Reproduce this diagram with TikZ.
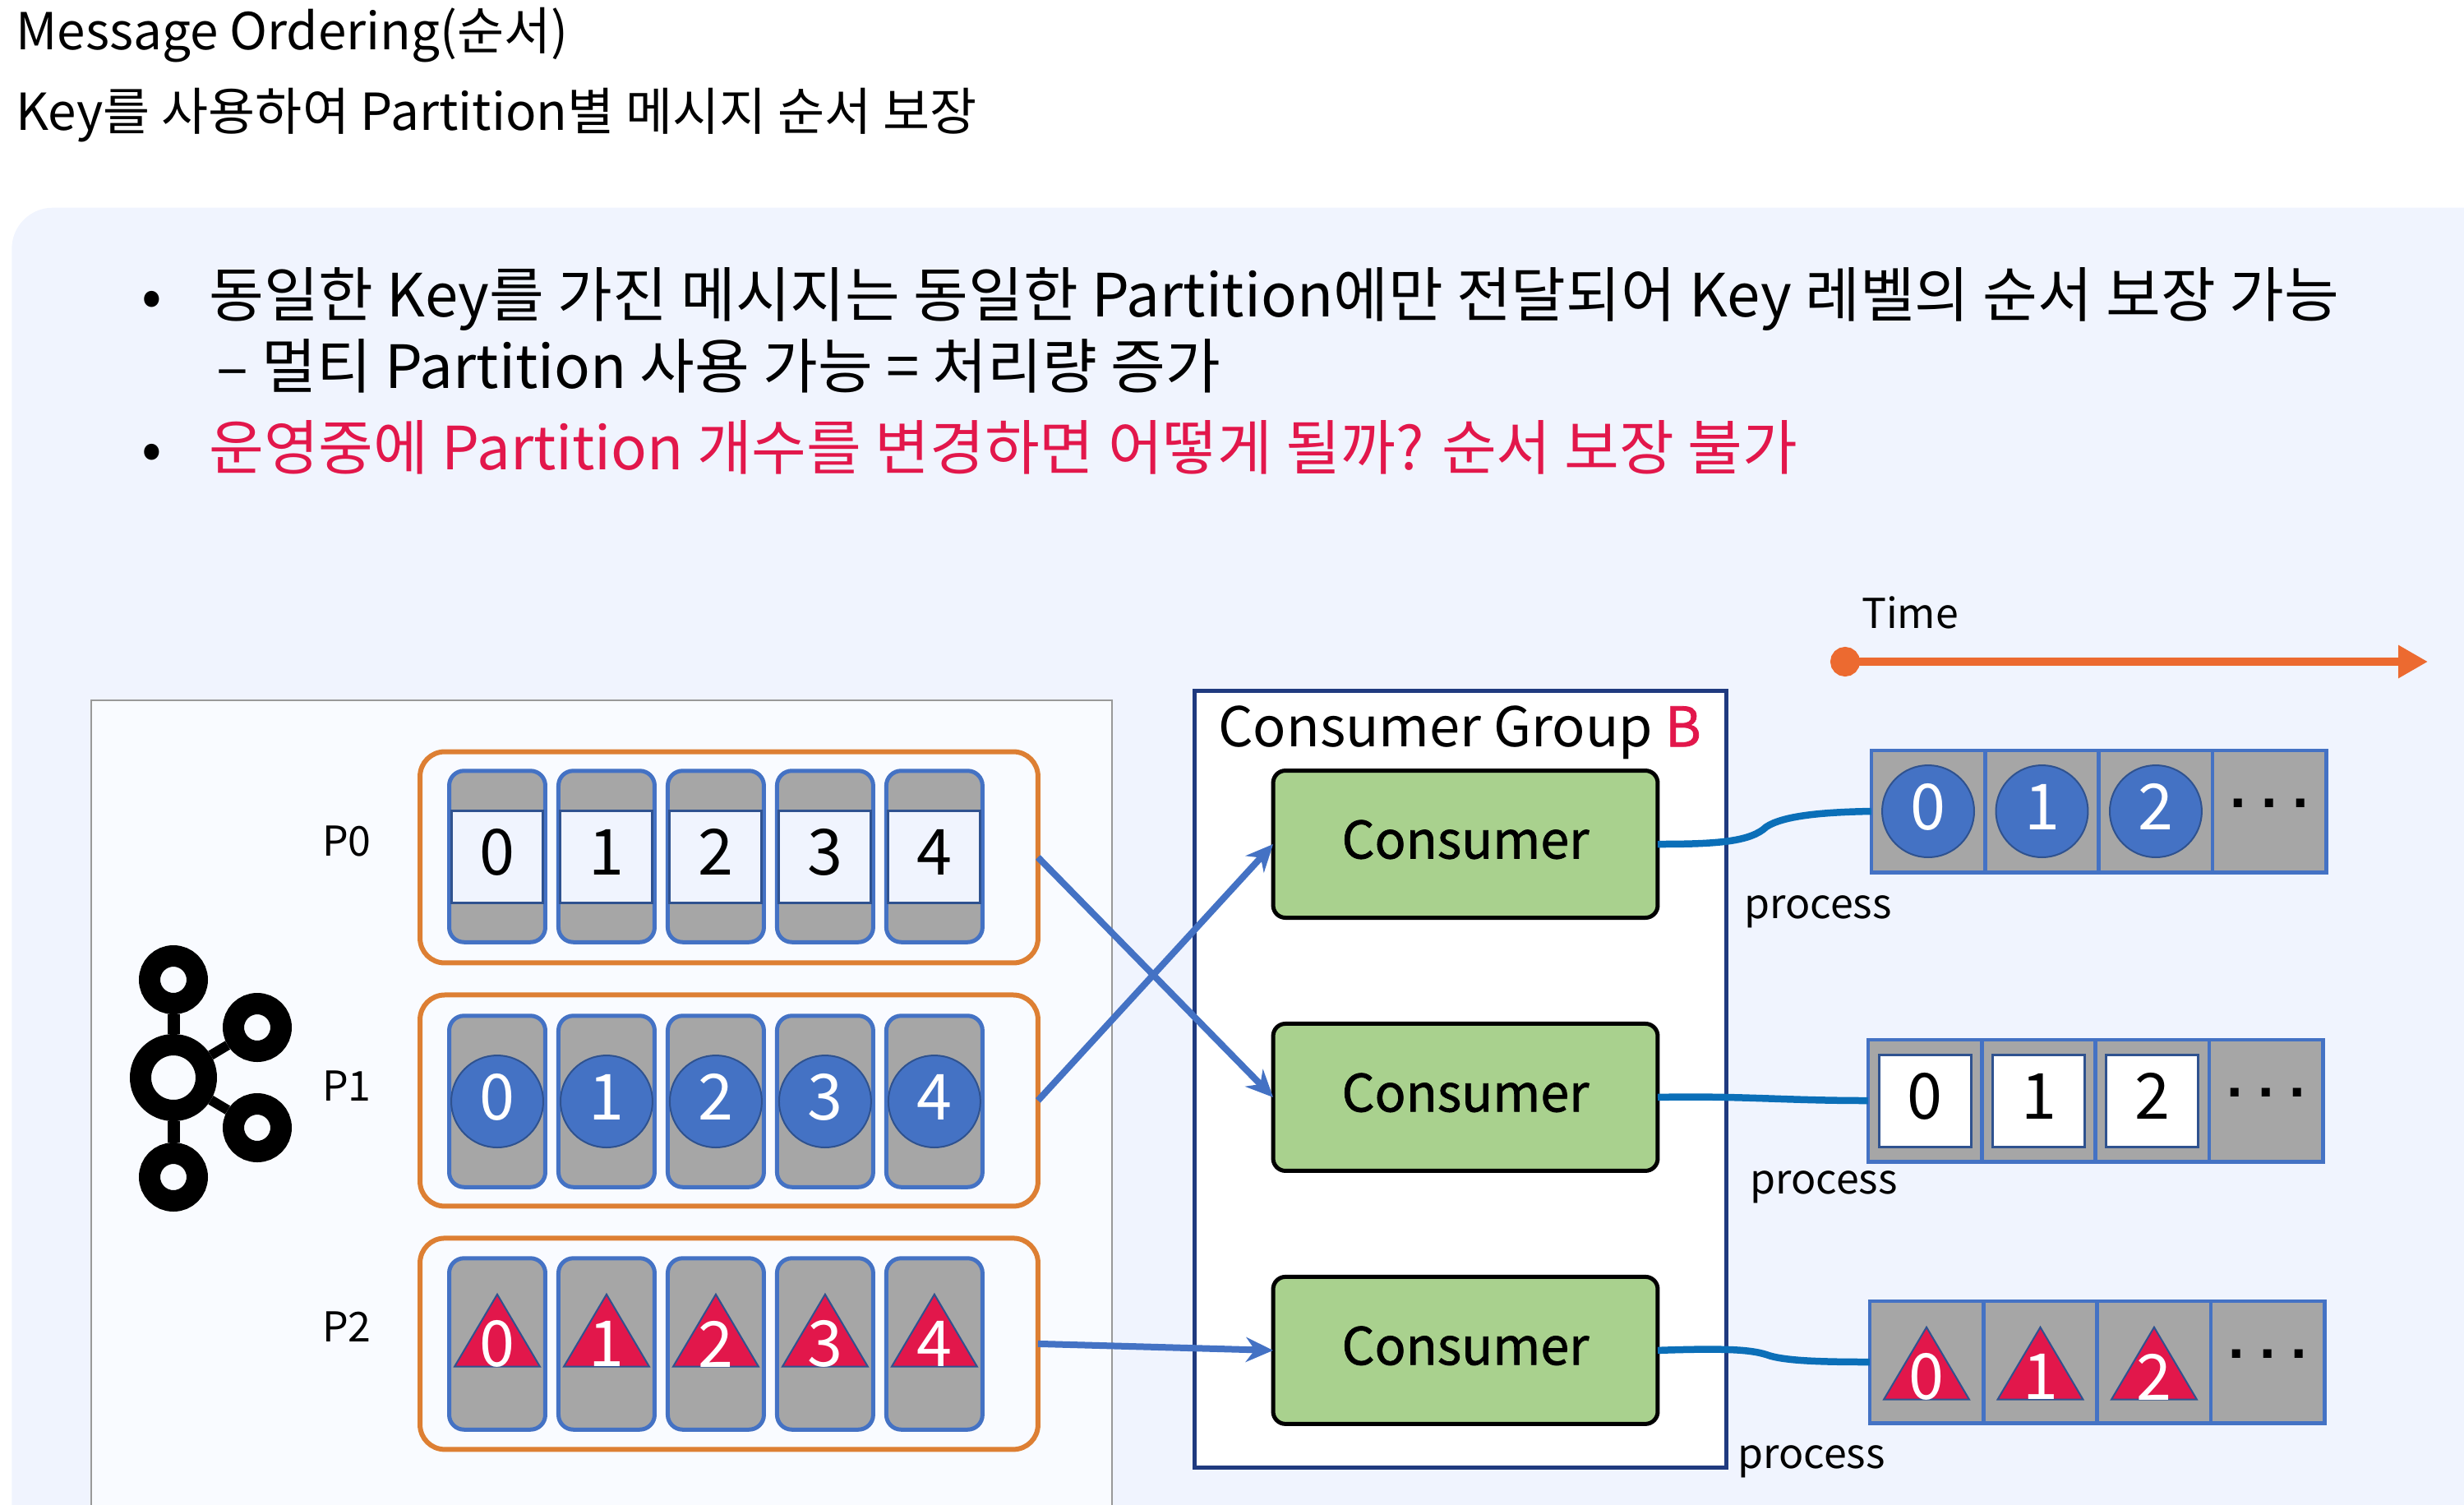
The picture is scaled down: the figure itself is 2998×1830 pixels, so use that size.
\documentclass[tikz,border=0pt]{standalone}
\usepackage{fontspec}
\setmainfont{Noto Sans CJK KR}
\newfontfamily\medfont[FakeBold=1.2]{Noto Sans CJK KR}
\newfontfamily\dotfont{Liberation Sans}
\usetikzlibrary{shapes.geometric, arrows.meta, positioning}

\definecolor{panelblue}{HTML}{F0F4FE}
\definecolor{srvfill}{HTML}{F9FBFF}
\definecolor{slotgray}{HTML}{A6A6A6}
\definecolor{msgblue}{HTML}{4472C4}
\definecolor{msgnavy}{HTML}{2F528F}
\definecolor{msgred}{HTML}{E2174B}
\definecolor{orangeline}{HTML}{DD7F33}
\definecolor{timeorange}{HTML}{EC6A30}
\definecolor{consgreen}{HTML}{A9D18E}
\definecolor{procblue}{HTML}{0B6FB8}
\definecolor{groupnavy}{HTML}{1F3A7F}

\begin{document}
\begin{tikzpicture}[
    x=0.02cm, y=-0.02cm,
    headtext/.style={anchor=base west, inner sep=0pt, font=\fontsize{35.3}{40}\selectfont},
    bodytext/.style={anchor=base west, inner sep=0pt, font=\fontsize{41.3}{48}\selectfont},
    smalltext/.style={inner sep=0pt, font=\fontsize{28.5}{32}\selectfont},
    partbox/.style={draw=orangeline, line width=0.12cm, rounded corners=0.6cm, outer sep=0pt, minimum width=15.04cm, minimum height=5.14cm},
    slotbox/.style={draw=msgblue, line width=0.1cm, fill=slotgray, rounded corners=0.36cm, outer sep=0pt, minimum width=2.34cm, minimum height=4.17cm},
    cellbox/.style={draw=msgblue, line width=0.09cm, fill=slotgray, outer sep=0pt, minimum width=2.77cm, minimum height=2.97cm},
    msgsquare/.style={draw=msgnavy, line width=0.06cm, fill=white, inner sep=0pt, text depth=0.22cm, minimum size=2.24cm, font=\fontsize{44}{50}\selectfont},
    msgcircle/.style={circle, draw=msgnavy, line width=0.04cm, fill=msgblue, text=white, inner sep=0pt, text depth=0.22cm, minimum size=2.24cm, font=\fontsize{44}{50}\selectfont},
    msgtri/.style={isosceles triangle, isosceles triangle stretches, shape border rotate=90, draw=msgnavy, line width=0.04cm, fill=msgred, inner sep=0pt, minimum width=2.08cm, minimum height=1.76cm, label={[text=white, inner sep=0pt, yshift=-0.04cm, font=\fontsize{44}{50}\selectfont]center:#1}},
    dotmark/.style={inner sep=0pt, yshift=0.2cm, font=\dotfont\fontsize{40}{44}\selectfont\bfseries},
    consumer/.style={draw=black, line width=0.1cm, fill=consgreen, rounded corners=0.3cm, outer sep=0pt, text depth=0.24cm, minimum width=9.36cm, minimum height=3.58cm, font=\medfont\fontsize{35.7}{40}\selectfont},
    ring/.style={circle, draw=black, line width=0.52cm, fill=srvfill, inner sep=0pt, minimum size=1.16cm},
    arrow/.style={-{Stealth[length=0.66cm, width=0.6cm]}, draw=msgblue, line width=0.16cm},
    procline/.style={draw=procblue, line width=0.17cm}
]
\useasboundingbox (0,0) rectangle (2998,1830);
\clip (0,0) rectangle (2998,1830);

% Title and text
\node (title) [headtext] at (19,60) {Message Ordering(순서)};
\node (subtitle) [headtext] at (19,158) {Key를 사용하여 Partition별 메시지 순서 보장};

% Backgrounds
\node (panel) [fill=panelblue, rounded corners=1cm, minimum width=61.72cm, minimum height=32.94cm] at (1557,1076) {};
\node (srv) [draw=gray!80, line width=0.04cm, fill=srvfill, minimum width=24.86cm, minimum height=21.92cm] at (732,1400) {};

\node (bul1) [bodytext] at (172,385) {•};
\node (line1) [bodytext] at (254,385) {동일한 Key를 가진 메시지는 동일한 Partition에만 전달되어 Key 레벨의 순서 보장 가능};
\node (line2) [bodytext] at (263,472) {– 멀티 Partition 사용 가능 = 처리량 증가};
\node (bul2) [bodytext] at (172,571) {•};
\node (line3) [bodytext, text=msgred] at (254,571) {운영중에 Partition 개수를 변경하면 어떻게 될까? 순서 보장 불가};

% Kafka logo
\node (hub) [ring, minimum size=1.6cm] at (211,1311) {};
\node (ringa) [ring] at (211,1192) {};
\node (ringb) [ring] at (313,1250) {};
\node (ringc) [ring] at (313,1372) {};
\node (ringd) [ring] at (211,1432) {};
\draw [line width=0.3cm] (hub) -- (ringa);
\draw [line width=0.24cm] (hub) -- (ringb);
\draw [line width=0.24cm] (hub) -- (ringc);
\draw [line width=0.3cm] (hub) -- (ringd);

% Partitions
\node (p0) [partbox] at (887,1043) {};
\node (p1) [partbox, below=0.78cm of p0] {};
\node (p2) [partbox, below=0.78cm of p1] {};
\node (lab0) [smalltext] at (422,1023) {P0};
\node (lab1) [smalltext] at (422,1321) {P1};
\node (lab2) [smalltext] at (422,1614) {P2};

\node (s00) [slotbox] at (605,1042) {};
\node (s01) [slotbox, right=0.32cm of s00] {};
\node (s02) [slotbox, right=0.32cm of s01] {};
\node (s03) [slotbox, right=0.32cm of s02] {};
\node (s04) [slotbox, right=0.32cm of s03] {};
\node (s10) [slotbox] at (605,1340) {};
\node (s11) [slotbox, right=0.32cm of s10] {};
\node (s12) [slotbox, right=0.32cm of s11] {};
\node (s13) [slotbox, right=0.32cm of s12] {};
\node (s14) [slotbox, right=0.32cm of s13] {};
\node (s20) [slotbox] at (605,1635) {};
\node (s21) [slotbox, right=0.32cm of s20] {};
\node (s22) [slotbox, right=0.32cm of s21] {};
\node (s23) [slotbox, right=0.32cm of s22] {};
\node (s24) [slotbox, right=0.32cm of s23] {};

\node (m00) [msgsquare, fill=panelblue] at (s00) {0};
\node (m01) [msgsquare, fill=panelblue] at (s01) {1};
\node (m02) [msgsquare, fill=panelblue] at (s02) {2};
\node (m03) [msgsquare, fill=panelblue] at (s03) {3};
\node (m04) [msgsquare, fill=panelblue] at (s04) {4};
\node (m10) [msgcircle] at (s10) {0};
\node (m11) [msgcircle] at (s11) {1};
\node (m12) [msgcircle] at (s12) {2};
\node (m13) [msgcircle] at (s13) {3};
\node (m14) [msgcircle] at (s14) {4};
\node (m20) [msgtri=0, yshift=0.04cm] at (s20) {};
\node (m21) [msgtri=1, yshift=0.04cm] at (s21) {};
\node (m22) [msgtri=2, yshift=0.04cm] at (s22) {};
\node (m23) [msgtri=3, yshift=0.04cm] at (s23) {};
\node (m24) [msgtri=4, yshift=0.04cm] at (s24) {};

% Consumer group
\node (groupb) [draw=groupnavy, line width=0.1cm, fill=white, minimum width=12.96cm, minimum height=18.92cm] at (1777,1313) {};
\node (grouplabel) [inner sep=0pt, font=\fontsize{38}{44}\selectfont] at (1776,891) {Consumer Group \textcolor{msgred}{\medfont B}};
\node (cons1) [consumer] at (1783,1027) {Consumer};
\node (cons2) [consumer, below=2.58cm of cons1] {Consumer};
\node (cons3) [consumer, below=2.58cm of cons2] {Consumer};

% Time axis
\node (timelabel) [smalltext] at (2324,745) {Time};
\coordinate (tstart) at (2227,805);
\coordinate (tend) at (2954,805);
\draw [{Circle[length=0.72cm, width=0.72cm]}-{Triangle[length=0.72cm, width=0.76cm]}, draw=timeorange, fill=timeorange, line width=0.2cm] (tstart) -- (tend);

% Processed messages
\node (c10) [cellbox] at (2346,987) {};
\node (c11) [cellbox, right=0pt of c10] {};
\node (c12) [cellbox, right=0pt of c11] {};
\node (c13) [cellbox, right=0pt of c12] {};
\node (c20) [cellbox] at (2342,1339) {};
\node (c21) [cellbox, right=0pt of c20] {};
\node (c22) [cellbox, right=0pt of c21] {};
\node (c23) [cellbox, right=0pt of c22] {};
\node (c30) [cellbox] at (2344,1657) {};
\node (c31) [cellbox, right=0pt of c30] {};
\node (c32) [cellbox, right=0pt of c31] {};
\node (c33) [cellbox, right=0pt of c32] {};

\node (r10) [msgcircle] at (c10) {0};
\node (r11) [msgcircle] at (c11) {1};
\node (r12) [msgcircle] at (c12) {2};
\node (r13) [dotmark] at (c13) {.\hspace{0.26em}.\hspace{0.26em}.};
\node (r20) [msgsquare] at (c20) {0};
\node (r21) [msgsquare] at (c21) {1};
\node (r22) [msgsquare] at (c22) {2};
\node (r23) [dotmark] at (c23) {.\hspace{0.26em}.\hspace{0.26em}.};
\node (r30) [msgtri=0, yshift=-0.32cm] at (c30) {};
\node (r31) [msgtri=1, yshift=-0.32cm] at (c31) {};
\node (r32) [msgtri=2, yshift=-0.32cm] at (c32) {};
\node (r33) [dotmark] at (c33) {.\hspace{0.26em}.\hspace{0.26em}.};

\node (proc1) [smalltext] at (2212,1109) {process};
\node (proc2) [smalltext] at (2219,1444) {process};
\node (proc3) [smalltext] at (2204,1778) {process};

% Connections
\draw [arrow] (p0.east) -- (cons2.west);
\draw [arrow] (p1.east) -- (cons1.west);
\draw [arrow] (p2.east) -- (cons3.west);
\draw [procline] (cons1.east) .. controls (2090,1027) and (2130,1024) .. (2149,1006) .. controls (2170,992) and (2220,988) .. (c10.west);
\draw [procline] (cons2.east) .. controls (2120,1333) and (2170,1339) .. (c20.west);
\draw [procline] (cons3.east) .. controls (2100,1640) and (2130,1642) .. (2149,1648) .. controls (2170,1656) and (2220,1657) .. (c30.west);

\end{tikzpicture}
\end{document}
